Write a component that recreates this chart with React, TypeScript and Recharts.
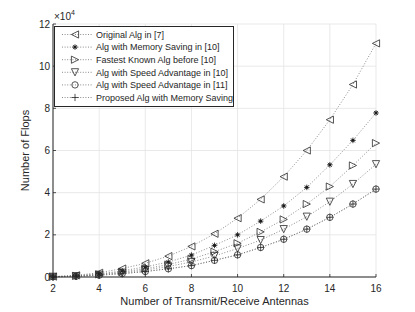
import { CartesianGrid, Legend, Line, LineChart, XAxis, YAxis } from 'recharts'

const antennas = [2, 3, 4, 5, 6, 7, 8, 9, 10, 11, 12, 13, 14, 15, 16]

const originalAlg7 = [200, 800, 2000, 4000, 6500, 9900, 14500, 20500, 27900, 36800, 47600, 60000, 74600, 91300, 110800]
const memorySaving10 = [150, 600, 1500, 2900, 4800, 7100, 10400, 15000, 20000, 26500, 33700, 42500, 53200, 64800, 77800]
const fastestBefore10 = [120, 500, 1250, 2400, 3900, 5900, 8500, 12000, 16000, 21400, 27300, 34600, 42900, 52900, 63500]
const speedAdv10 = [100, 400, 1050, 2000, 3300, 5000, 7100, 10000, 13500, 17500, 22700, 28600, 35700, 44100, 53500]
const speedAdv11 = [80, 320, 850, 1600, 2600, 3900, 5400, 7900, 10500, 14000, 17900, 22700, 28300, 34600, 41700]
const proposedMem = [80, 320, 850, 1600, 2600, 3900, 5400, 7900, 10500, 14000, 17900, 22700, 28300, 34600, 41700]

const xTicks = [2, 4, 6, 8, 10, 12, 14, 16]
const yTicks = [0, 20000, 40000, 60000, 80000, 100000, 120000]

type Kind = 'left' | 'star' | 'right' | 'down' | 'circle' | 'plus'

const SERIES: { key: string; label: string; kind: Kind; values: number[] }[] = [
  { key: 'orig', label: 'Original Alg in [7]', kind: 'left', values: originalAlg7 },
  { key: 'mem10', label: 'Alg with Memory Saving in [10]', kind: 'star', values: memorySaving10 },
  { key: 'fast', label: 'Fastest Known Alg before [10]', kind: 'right', values: fastestBefore10 },
  { key: 'spd10', label: 'Alg with Speed Advantage in [10]', kind: 'down', values: speedAdv10 },
  { key: 'spd11', label: 'Alg with Speed Advantage in [11]', kind: 'circle', values: speedAdv11 },
  { key: 'prop', label: 'Proposed Alg with Memory Saving', kind: 'plus', values: proposedMem },
]

const data = antennas.map((n, i) => {
  const row: Record<string, number> = { n }
  SERIES.forEach(s => { row[s.key] = s.values[i] })
  return row
})

const FONT = '"Liberation Sans", Arial, Helvetica, sans-serif'
const INK = '#262626'
const LINE = '#6e6e6e'

function Marker({ cx, cy, kind }: { cx: number; cy: number; kind: Kind }) {
  const s = 3.6
  const common = { fill: 'none', stroke: '#2a2a2a', strokeWidth: 0.8 }
  switch (kind) {
    case 'left':
      return <polygon points={`${cx - s},${cy} ${cx + s},${cy - s} ${cx + s},${cy + s}`} {...common} />
    case 'right':
      return <polygon points={`${cx + s},${cy} ${cx - s},${cy - s} ${cx - s},${cy + s}`} {...common} />
    case 'down':
      return <polygon points={`${cx - s},${cy - s} ${cx + s},${cy - s} ${cx},${cy + s}`} {...common} />
    case 'circle':
      return <circle cx={cx} cy={cy} r={3.2} {...common} />
    case 'plus':
      return (
        <g {...common}>
          <line x1={cx - s} y1={cy} x2={cx + s} y2={cy} />
          <line x1={cx} y1={cy - s} x2={cx} y2={cy + s} />
        </g>
      )
    default: {
      const r = 2.8
      const d = 2
      return (
        <g {...common} strokeWidth={0.9}>
          <line x1={cx - r} y1={cy} x2={cx + r} y2={cy} />
          <line x1={cx} y1={cy - r} x2={cx} y2={cy + r} />
          <line x1={cx - d} y1={cy - d} x2={cx + d} y2={cy + d} />
          <line x1={cx - d} y1={cy + d} x2={cx + d} y2={cy - d} />
          <circle cx={cx} cy={cy} r={1.4} fill="#1a1a1a" stroke="none" />
        </g>
      )
    }
  }
}

const dotFor = (kind: Kind) => (p: any) => (
  <g key={`${kind}-${p.index}`}>
    <Marker cx={p.cx} cy={p.cy} kind={kind} />
  </g>
)

function XTick({ x, y, payload }: any) {
  return (
    <g>
      <line x1={x} y1={y} x2={x} y2={y - 3} stroke={INK} strokeWidth={0.8} />
      <text x={x} y={y + 14.5} textAnchor="middle" fontSize={10} fill={INK} fontFamily={FONT}>
        {payload.value}
      </text>
    </g>
  )
}

function YTick({ x, y, payload }: any) {
  return (
    <g>
      <line x1={x} y1={y} x2={x + 3} y2={y} stroke={INK} strokeWidth={0.8} />
      <text x={x - 3} y={y + 3.6} textAnchor="end" fontSize={10} fill={INK} fontFamily={FONT}>
        {payload.value / 10000}
      </text>
    </g>
  )
}

function TopTick({ x, y }: any) {
  return <line x1={x} y1={y} x2={x} y2={y + 3} stroke={INK} strokeWidth={0.8} />
}

function RightTick({ x, y }: any) {
  return <line x1={x} y1={y} x2={x - 3} y2={y} stroke={INK} strokeWidth={0.8} />
}

function LegendBox() {
  const w = 180
  const h = 81
  return (
    <svg width={w} height={h} style={{ display: 'block' }}>
      <rect x={0.5} y={0.5} width={w - 1} height={h - 1} fill="#fff" stroke={INK} strokeWidth={1} />
      {SERIES.map((s, i) => {
        const cy = 8.5 + i * 12.6
        return (
          <g key={s.key}>
            <line x1={8} y1={cy} x2={38} y2={cy} stroke={LINE} strokeWidth={0.8} strokeDasharray="1 1.6" />
            <Marker cx={21} cy={cy} kind={s.kind} />
            <text x={42} y={cy + 3.2} fontSize={9} fill={INK} fontFamily={FONT}>
              {s.label}
            </text>
          </g>
        )
      })}
    </svg>
  )
}

export default function App() {
  return (
    <div style={{ position: 'absolute', left: 0, top: 0, width: 415, height: 312, background: '#fff' }}>
      <LineChart width={415} height={312} data={data} margin={{ top: 24, right: 39, bottom: 0, left: 0 }}>
        <CartesianGrid stroke="#e3e3e3" strokeWidth={0.8} />
        <XAxis
          dataKey="n"
          type="number"
          domain={[2, 16]}
          ticks={xTicks}
          height={35}
          tickSize={0}
          tickMargin={0}
          tickLine={false}
          axisLine={{ stroke: INK, strokeWidth: 1 }}
          tick={<XTick />}
          label={(props: any) => {
            const vb = props.viewBox
            return (
              <text x={vb.x + vb.width / 2} y={305} textAnchor="middle" fontSize={11} fill={INK} fontFamily={FONT}>
                Number of Transmit/Receive Antennas
              </text>
            )
          }}
        />
        <XAxis
          xAxisId="top"
          dataKey="n"
          type="number"
          orientation="top"
          domain={[2, 16]}
          ticks={xTicks}
          height={0}
          tickSize={0}
          tickLine={false}
          axisLine={{ stroke: INK, strokeWidth: 1 }}
          tick={<TopTick />}
        />
        <YAxis
          type="number"
          domain={[0, 120000]}
          ticks={yTicks}
          width={53}
          tickSize={0}
          tickMargin={0}
          tickLine={false}
          axisLine={{ stroke: INK, strokeWidth: 1 }}
          tick={<YTick />}
          label={(props: any) => {
            const vb = props.viewBox
            const cy = vb.y + vb.height / 2
            return (
              <g fontFamily={FONT} fill={INK}>
                <text x={29} y={cy} textAnchor="middle" fontSize={11} transform={`rotate(-90 29 ${cy})`}>
                  Number of Flops
                </text>
                <text x={54} y={20} fontSize={10}>
                  ×10<tspan dy={-5} fontSize={7}>4</tspan>
                </text>
              </g>
            )
          }}
        />
        <YAxis
          yAxisId="right"
          orientation="right"
          type="number"
          domain={[0, 120000]}
          ticks={yTicks}
          width={0}
          tickSize={0}
          tickLine={false}
          axisLine={{ stroke: INK, strokeWidth: 1 }}
          tick={<RightTick />}
        />
        {SERIES.map(s => (
          <Line
            key={s.key}
            dataKey={s.key}
            type="linear"
            stroke={LINE}
            strokeWidth={0.8}
            strokeDasharray="1 1.8"
            dot={dotFor(s.kind)}
            activeDot={false}
            isAnimationActive={false}
            legendType="none"
          />
        ))}
        <Legend
          layout="vertical"
          align="center"
          verticalAlign="middle"
          wrapperStyle={{ position: 'absolute', top: 26, left: 54, width: 180, height: 81 }}
          content={() => <LegendBox />}
        />
      </LineChart>
    </div>
  )
}
